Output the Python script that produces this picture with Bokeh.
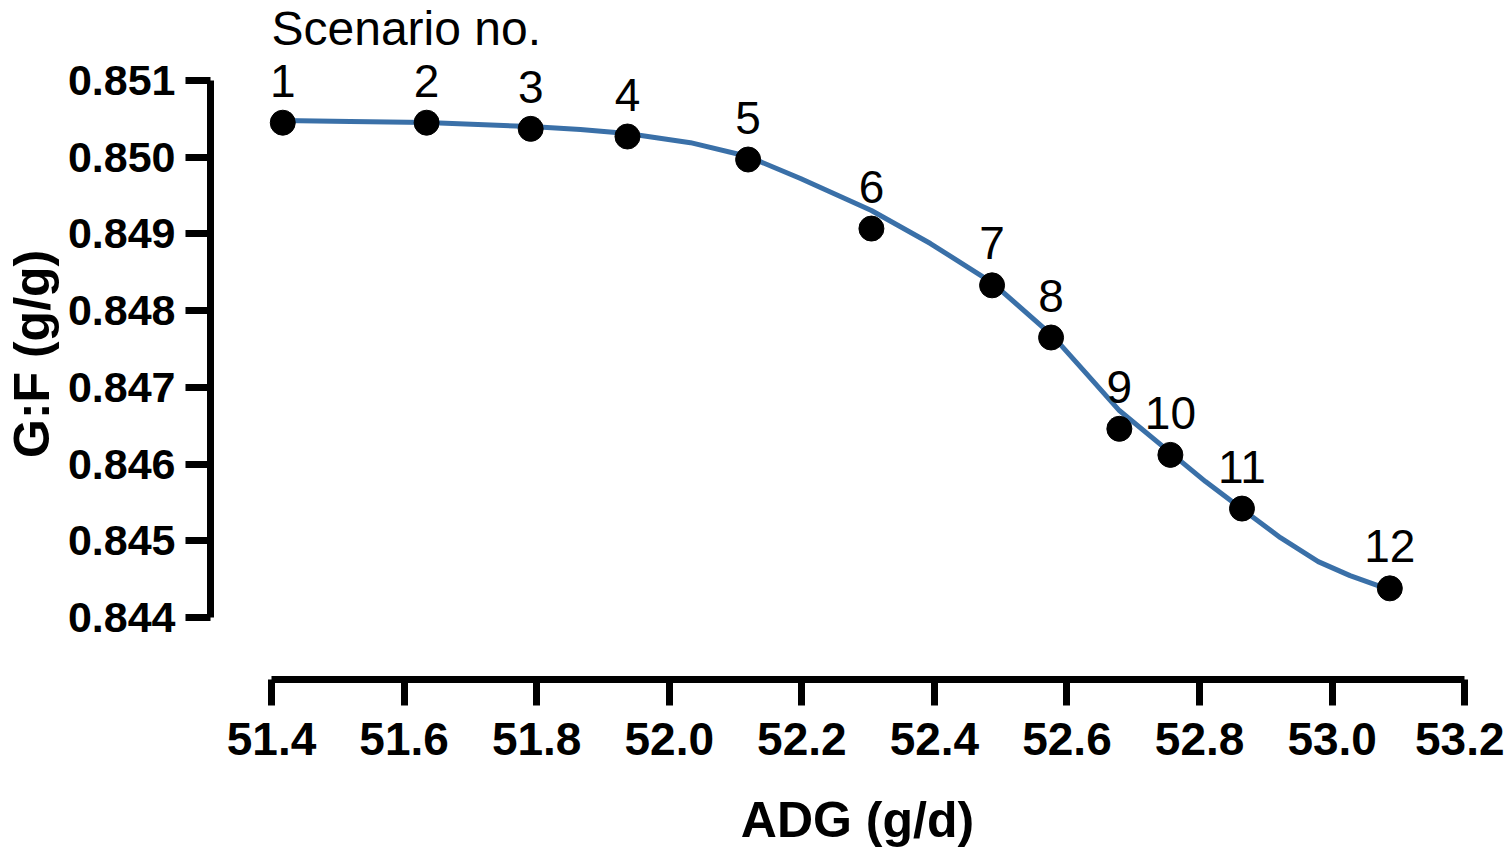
from bokeh.plotting import figure
from bokeh.models import ColumnDataSource, FixedTicker, NumeralTickFormatter, Range1d, Label
from bokeh.core.properties import value
from bokeh.embed import file_html
from bokeh.resources import INLINE

# Scenario points
scenario = ["1", "2", "3", "4", "5", "6", "7", "8", "9", "10", "11", "12"]
adg = [51.417, 51.634, 51.791, 51.937, 52.119, 52.305, 52.487, 52.576, 52.679, 52.756, 52.864, 53.087]
gf = [0.85045, 0.85045, 0.85037, 0.85027, 0.84997, 0.84907, 0.84833, 0.84765, 0.84646, 0.84612, 0.84542, 0.84438]

# Fitted curve
curve_adg = [51.417, 51.519, 51.634, 51.791, 51.866, 51.937, 52.032, 52.119, 52.198, 52.305, 52.394,
             52.487, 52.578, 52.628, 52.679, 52.756, 52.809, 52.863, 52.922, 52.979, 53.027, 53.086]
curve_gf = [0.850478, 0.850465, 0.850452, 0.850400, 0.850361, 0.850309, 0.850190, 0.850009, 0.849722,
            0.849305, 0.848875, 0.848366, 0.847675, 0.847193, 0.846698, 0.846150, 0.845772, 0.845420,
            0.845040, 0.844729, 0.844546, 0.844364]

x_ticks = [51.4, 51.6, 51.8, 52.0, 52.2, 52.4, 52.6, 52.8, 53.0, 53.2]
y_ticks = [0.844, 0.845, 0.846, 0.847, 0.848, 0.849, 0.850, 0.851]

FONT = "Liberation Sans"

p = figure(width=1496, height=832, frame_width=1294, frame_height=679,
           min_border_left=202, min_border_right=0, min_border_top=0, min_border_bottom=153,
           x_range=Range1d(51.308, 53.260), y_range=Range1d(0.843192, 0.852043),
           output_backend="svg", toolbar_location=None)
p.outline_line_color = None
p.grid.visible = False
p.background_fill_color = "white"
p.border_fill_color = "white"

p.line(curve_adg, curve_gf, line_color="#3A70A8", line_width=5, line_join="round")

src = ColumnDataSource(dict(x=adg, y=gf, t=scenario))
p.scatter("x", "y", source=src, size=25, fill_color="black", line_color="black")
p.text("x", "y", text="t", source=src, text_align="center", text_baseline="alphabetic",
       y_offset=-42, text_font=value(FONT), text_font_size="46px", text_color="black")

p.add_layout(Label(x=51.4, y=0.85168, text="Scenario no.", text_font=FONT,
                   text_font_size="48px", text_baseline="alphabetic", text_align="left",
                   text_color="black"))

xa = p.xaxis[0]
xa.ticker = FixedTicker(ticks=x_ticks)
xa.formatter = NumeralTickFormatter(format="0.0")
xa.bounds = (51.4, 53.2)
xa.axis_label = "ADG (g/d)"
ya = p.yaxis[0]
ya.ticker = FixedTicker(ticks=y_ticks)
ya.formatter = NumeralTickFormatter(format="0.000")
ya.bounds = (0.844, 0.851)
ya.axis_label = "G:F (g/g)\u00a0\u00a0"

for ax in (xa, ya):
    ax.axis_line_width = 7
    ax.axis_line_color = "black"
    ax.major_tick_line_width = 7
    ax.major_tick_line_color = "black"
    ax.major_tick_in = 0
    ax.minor_tick_line_color = None
    ax.major_label_text_font = FONT
    ax.major_label_text_font_style = "bold"
    ax.major_label_text_color = "black"
    ax.axis_label_text_font = FONT
    ax.axis_label_text_font_style = "bold"
    ax.axis_label_text_font_size = "50px"
    ax.axis_label_text_color = "black"

xa.major_tick_out = 26
xa.major_label_text_font_size = "46px"
xa.major_label_standoff = 17
xa.axis_label_standoff = 34
ya.major_tick_out = 25
ya.major_label_text_font_size = "43px"
ya.major_label_standoff = 10
ya.axis_label_standoff = 5

open("out.html", "w").write(file_html(p, INLINE))
